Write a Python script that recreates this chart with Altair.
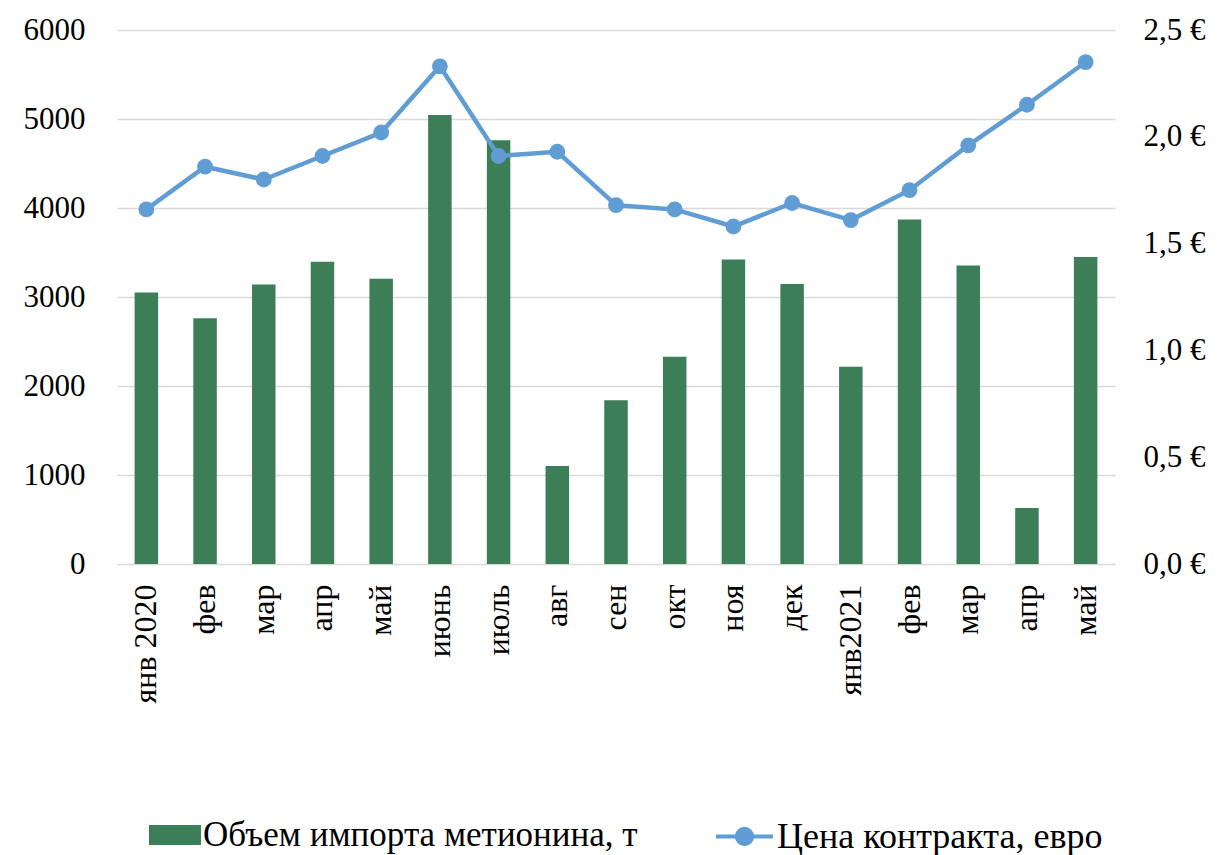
import json
import altair as alt
import pandas as pd

labels = ["янв 2020", "фев", "мар", "апр", "май", "июнь", "июль", "авг", "сен",
          "окт", "ноя", "дек", "янв2021", "фев", "мар", "апр", "май"]
volume = [3050, 2760, 3140, 3395, 3205, 5045, 4760, 1100, 1840, 2330, 3420,
          3145, 2215, 3870, 3355, 630, 3450]
price = [1.66, 1.86, 1.80, 1.91, 2.02, 2.33, 1.91, 1.93, 1.68, 1.66, 1.58,
         1.69, 1.61, 1.75, 1.96, 2.15, 2.35]
bar_name = "Объем импорта метионина, т"
line_name = "Цена контракта, евро"
left_ticks = [0, 1000, 2000, 3000, 4000, 5000, 6000]
right_ticks = [0, 0.5, 1.0, 1.5, 2.0, 2.5]

df = pd.DataFrame({
    "idx": list(range(len(labels))),
    "volume": volume,
    "price": price,
    "s1": bar_name,
    "s2": line_name,
})

FONT = "Liberation Serif"
GREEN = "#3B7E57"
BLUE = "#5F9DD4"
label_expr = json.dumps(labels, ensure_ascii=False) + "[datum.value]"

x = alt.X("idx:O",
          scale=alt.Scale(paddingInner=0.6, paddingOuter=0.3),
          axis=alt.Axis(title=None, labelExpr=label_expr, labelAngle=-90,
                        labelPadding=20, ticks=False, domain=False,
                        labelFontSize=32, labelColor="#000000", labelFont=FONT))

bars = alt.Chart(df).mark_bar(color=GREEN).encode(
    x=x,
    y=alt.Y("volume:Q",
            scale=alt.Scale(domain=[0, 6000], nice=False),
            axis=alt.Axis(title=None, values=left_ticks, grid=True, format="d",
                          gridColor="#D9D9D9", gridWidth=1.5, domain=False,
                          ticks=False, labelPadding=32, labelFontSize=31,
                          labelColor="#000000", labelFont=FONT)),
    color=alt.Color("s1:N",
                    scale=alt.Scale(domain=[bar_name], range=[GREEN]),
                    legend=alt.Legend(title=None, orient="none", legendX=32,
                                      legendY=779, padding=0,
                                      symbolType="M-1,-0.385H1V0.385H-1Z",
                                      symbolSize=2704, symbolStrokeWidth=0,
                                      labelFontSize=35, labelFont=FONT,
                                      labelColor="#000000", labelOffset=2,
                                      labelLimit=700)),
)

right_y = alt.Y("price:Q",
                scale=alt.Scale(domain=[0, 2.5], nice=False),
                axis=alt.Axis(title=None, orient="right", values=right_ticks,
                              grid=False, domain=False, ticks=False,
                              labelPadding=28, labelFontSize=31,
                              labelColor="#000000", labelFont=FONT,
                              labelExpr="replace(format(datum.value, '.1f'), '.', ',') + ' €'"))

line_color = alt.Color("s2:N",
                       scale=alt.Scale(domain=[line_name], range=[BLUE]),
                       legend=alt.Legend(title=None, orient="none", legendX=597,
                                         legendY=776, padding=0,
                                         symbolType="M-1,0H1M-0.27,0A0.27,0.27,0,1,1,0.27,0A0.27,0.27,0,1,1,-0.27,0Z",
                                         symbolSize=3249, symbolStrokeWidth=4,
                                         symbolFillColor=BLUE, symbolStrokeColor=BLUE,
                                         labelFontSize=36, labelFont=FONT,
                                         labelColor="#000000", labelOffset=2,
                                         labelLimit=700))

line = alt.Chart(df).mark_line(strokeWidth=4.5, color=BLUE).encode(
    x=x, y=right_y, color=line_color)
points = alt.Chart(df).mark_point(filled=True, size=250, opacity=1, color=BLUE).encode(
    x=x, y=right_y, color=line_color)

right_layer = alt.layer(line, points)

chart = alt.layer(bars, right_layer).resolve_scale(
    y="independent", color="independent"
).properties(
    width=998, height=534,
    autosize=alt.AutoSizeParams(type="none"),
    padding={"left": 109, "top": 22, "right": 95, "bottom": 291},
).configure(
    font=FONT,
    view=alt.ViewConfig(stroke="transparent", strokeWidth=0),
)

chart.save("out.html", embed_options={"renderer": "svg", "actions": False})
